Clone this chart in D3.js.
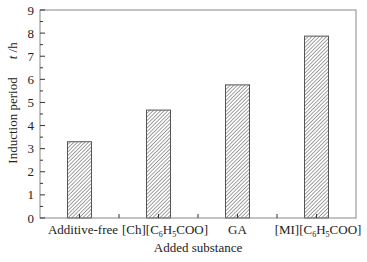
<!DOCTYPE html>
<html>
<head>
<meta charset="UTF-8">
<script src="https://d3js.org/d3.v7.min.js"></script>
<style>
  body { margin: 0; background: #fff; }
  text { font-family: "Liberation Serif", "Times New Roman", serif; fill: #222; }
</style>
</head>
<body>
<svg id="canvas"></svg>
<script>
  // data
  categories = ["Additive-free", "[Ch][C6H5COO]", "GA", "[MI][C6H5COO]"];
  values = [3.3, 4.67, 5.76, 7.87];
  yTicks = [0, 1, 2, 3, 4, 5, 6, 7, 8, 9];

  width = 367;
  height = 262;
  margin = {left: 40, right: 11, top: 10, bottom: 44};
  w = width - margin.left - margin.right;
  h = height - margin.top - margin.bottom;

  svg = d3.select("#canvas")
      .attr("width", width)
      .attr("height", height);

  defs = svg.append("defs");
  defs.append("pattern")
      .attr("id", "hatch")
      .attr("patternUnits", "userSpaceOnUse")
      .attr("width", 2.6)
      .attr("height", 2.6)
      .attr("patternTransform", "rotate(45)")
    .append("line")
      .attr("x1", 0).attr("y1", 0)
      .attr("x2", 0).attr("y2", 2.6)
      .attr("stroke", "#555")
      .attr("stroke-width", 1.1);

  chart = svg.append("g")
      .attr("transform", "translate(" + margin.left + "," + margin.top + ")");

  x = d3.scaleBand()
      .domain(categories)
      .range([0, w]);

  y = d3.scaleLinear()
      .domain([0, 9])
      .range([h, 0]);

  barW = 24;

  chart.selectAll(".bar")
      .data(values).enter()
      .append("rect")
        .attr("class", "bar")
        .attr("x", (d, i) => x(categories[i]) + x.bandwidth() / 2 - barW / 2)
        .attr("y", d => y(d))
        .attr("width", barW)
        .attr("height", d => h - y(d))
        .attr("fill", "url(#hatch)")
        .attr("stroke", "#555")
        .attr("stroke-width", 1);

  // frame
  chart.append("rect")
      .attr("x", 0).attr("y", 0)
      .attr("width", w).attr("height", h)
      .attr("fill", "none")
      .attr("stroke", "#888")
      .attr("stroke-width", 1);

  // y axis ticks (inward)
  yAxis = chart.append("g").attr("class", "yaxis");
  minor = d3.range(0.5, 9, 1);
  yAxis.selectAll(".maj").data(yTicks).enter()
      .append("line")
        .attr("x1", 0).attr("x2", 5)
        .attr("y1", d => y(d)).attr("y2", d => y(d))
        .attr("stroke", "#333");
  yAxis.selectAll(".min").data(minor).enter()
      .append("line")
        .attr("x1", 0).attr("x2", 3)
        .attr("y1", d => y(d)).attr("y2", d => y(d))
        .attr("stroke", "#333");
  yAxis.selectAll("text").data(yTicks).enter()
      .append("text")
        .attr("x", -6)
        .attr("y", d => y(d))
        .attr("dy", "0.35em")
        .attr("text-anchor", "end")
        .attr("font-size", 13)
        .text(d => d);

  // x axis ticks: band centres and band boundaries
  xTickPos = [];
  categories.forEach((c, i) => {
      xTickPos.push(x(c) + x.bandwidth() / 2);
      if (i > 0) xTickPos.push(x(c));
  });
  chart.append("g").selectAll("line").data(xTickPos).enter()
      .append("line")
        .attr("x1", d => d).attr("x2", d => d)
        .attr("y1", h).attr("y2", h - 4)
        .attr("stroke", "#333");

  // x tick labels with subscripts (slightly nudged right like the original)
  labelNudge = [3.5, 6.5, 0, 1.5];
  labelParts = {
      "Additive-free": [["Additive-free", false]],
      "[Ch][C6H5COO]": [["[Ch][C", false], ["6", true], ["H", false], ["5", true], ["COO]", false]],
      "GA": [["GA", false]],
      "[MI][C6H5COO]": [["[MI][C", false], ["6", true], ["H", false], ["5", true], ["COO]", false]]
  };
  categories.forEach((c, i) => {
      t = chart.append("text")
          .attr("x", x(c) + x.bandwidth() / 2 + labelNudge[i])
          .attr("y", h + 16)
          .attr("text-anchor", "middle")
          .attr("font-size", 13);
      labelParts[c].forEach(p => {
          s = t.append("tspan").text(p[0]);
          if (p[1]) s.attr("font-size", 8).attr("dy", 3);
          else if (t.selectAll("tspan").size() > 1) s.attr("dy", -3);
      });
  });

  // axis titles
  chart.append("text")
      .attr("x", w / 2)
      .attr("y", h + 34)
      .attr("text-anchor", "middle")
      .attr("font-size", 13)
      .text("Added substance");

  yl = svg.append("text")
      .attr("transform", "translate(17,103) rotate(-90)")
      .attr("text-anchor", "middle")
      .attr("font-size", 13);
  yl.append("tspan").text("Induction period");
  yl.append("tspan").attr("dx", 18).attr("font-style", "italic").text("t");
  yl.append("tspan").text(" /h");
</script>
</body>
</html>
